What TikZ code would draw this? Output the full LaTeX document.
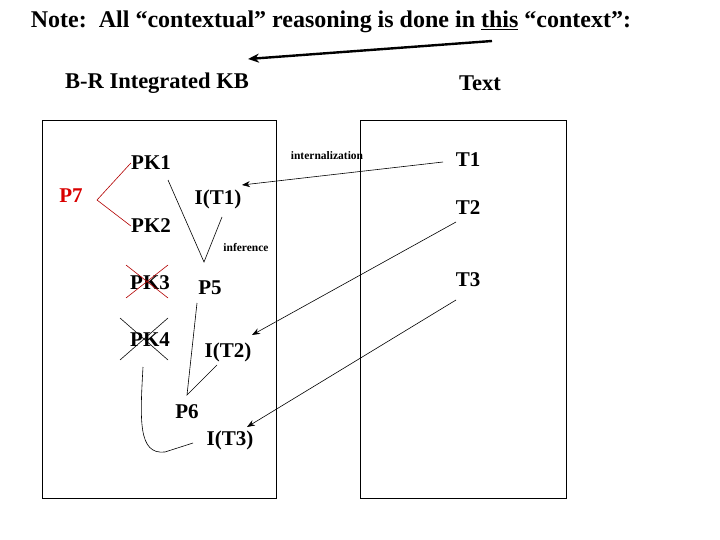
\documentclass[tikz,border=0pt]{standalone}
\usepackage{fontspec}
\setmainfont{Liberation Serif}
\usetikzlibrary{arrows.meta}

\tikzset{
  lbl/.style={font=\fontsize{22.5}{24}\selectfont\bfseries, inner sep=0pt},
  big/.style={font=\fontsize{21}{24}\selectfont\bfseries, inner sep=0pt},
  small/.style={font=\fontsize{11.5}{12}\selectfont\bfseries, inner sep=0pt},
  link/.style={-{Stealth[length=8pt,width=6pt]}, semithick},
}

\begin{document}
\begin{tikzpicture}[x=1pt,y=-1pt, semithick]
	\useasboundingbox (0,0) rectangle (720,540);
	% boxes
	\draw (42,120) rectangle (276,498);
	\draw (360,120) rectangle (566,498);
	% headings
	\node [lbl, font=\fontsize{24}{26}\selectfont\bfseries] (note) at (331,22) {Note:\ \ All “contextual” reasoning is done in \underline{this} “context”:};
	\node [lbl] (kb) at (157,83) {B-R Integrated KB};
	\node [lbl] (text) at (480,83) {Text};
	\coordinate (a0) at (492,41);
	\coordinate (a1) at (248,59);
	\draw [line width=2.4pt, -{Stealth[length=11pt,width=9pt]}] (a0) -- (a1);
	% knowledge base
	\node [big, text=red!85!black] (p7) at (71,196) {P7};
	\node [big] (pk1) at (151,163) {PK1};
	\node [big] (pk2) at (151,226) {PK2};
	\node [big] (pk3) at (150,283) {PK3};
	\node [big] (pk4) at (150,340) {PK4};
	\node [big] (it1) at (218,199) {I(T1)};
	\node [big] (p5) at (210,288) {P5};
	\node [big] (it2) at (228,352) {I(T2)};
	\node [big] (p6) at (187,412) {P6};
	\node [big] (it3) at (230,440) {I(T3)};
	\node [small] (inf) at (246,248) {inference};
	\node [small] (intl) at (327,156) {internalization};
	% text
	\node [big] (t1) at (468,160) {T1};
	\node [big] (t2) at (468,208) {T2};
	\node [big] (t3) at (468,280) {T3};
	% P7 from PK1, PK2
	\draw [red!70!black] (pk1.west) -- (97,200) coordinate (v7) -- (pk2.west);
	% P5 from PK1 and I(T1)
	\coordinate (v5) at (204,262);
	\draw (168,180) -- (v5) -- (222,217);
	% P6 from P5 and I(T2)
	\coordinate (v6) at (187,395);
	\draw (197,303) -- (v6) -- (217,365);
	% crossed out
	\draw [red!70!black] (126,265) -- (168,298) (126,298) -- (168,265);
	\draw (120,318) -- (168,360) (120,360) -- (168,318);
	% PK4 loop
	\draw (143,367) .. controls (140,420) and (138,455) .. (165,452) -- (193,443);
	% internalization arrows
	\draw [link] (443,162) -- (242,185);
	\draw [link] (456,222) -- (252,335);
	\draw [link] (456,300) -- (247,427);
\end{tikzpicture}
\end{document}
